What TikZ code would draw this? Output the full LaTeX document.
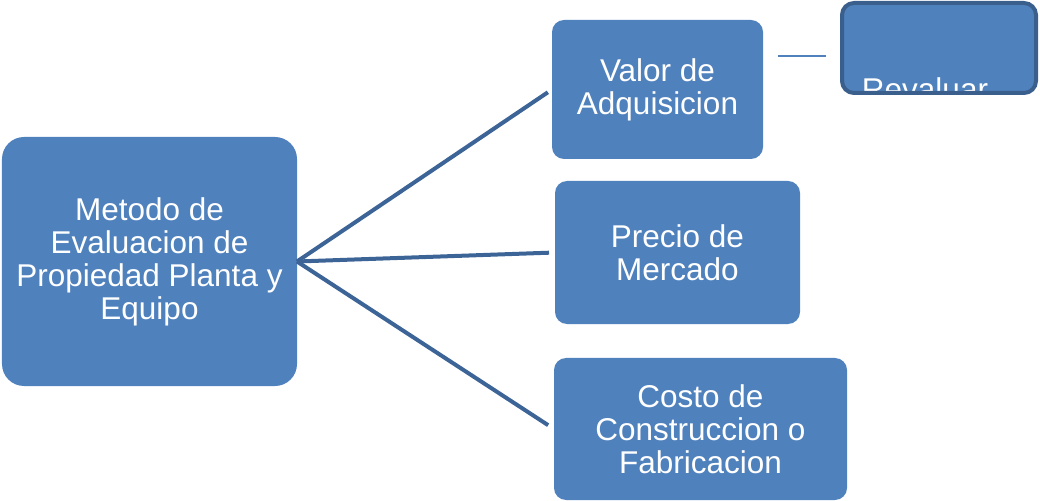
\documentclass[tikz,border=0pt]{standalone}
\usepackage{fontspec}
\setmainfont{Liberation Sans}
\definecolor{boxblue}{HTML}{4F81BD}
\definecolor{edgeblue}{HTML}{3C6496}
\definecolor{rimblue}{HTML}{3B5F8C}

\begin{document}
\begin{tikzpicture}[x=1bp,y=-1bp,
  every text node part/.style={align=center},
  box/.style={rectangle,rounded corners=12bp,fill=boxblue,text=white,inner sep=0pt,outer sep=0pt,
    font=\fontsize{31.5bp}{33bp}\selectfont},
  spoke/.style={draw=edgeblue,line width=4bp},
  twig/.style={draw=boxblue,line width=2bp}]

\useasboundingbox(0,0)rectangle(1040,501);

\node[box,rounded corners=22bp,minimum width=295bp,minimum height=249bp](metodo)at(149.5,261.5)
  {Metodo de\\Evaluacion de\\Propiedad Planta y\\Equipo};

\node[box,minimum width=211bp,minimum height=139bp](valor)at(657.5,89.5){Valor de\\Adquisicion};
\node[box,minimum width=245bp,minimum height=143bp](precio)at(677.5,252.5){Precio de\\Mercado};
\node[box,minimum width=293bp,minimum height=142bp](costo)at(700.5,429){Costo de\\Construccion o\\Fabricacion};

\node[box,minimum width=194bp,minimum height=90bp](reval)at(939,48){};
\begin{scope}
\clip[rounded corners=12bp](reval.north west)rectangle(reval.south east);
\node[text=white,inner sep=0pt,anchor=base,font=\fontsize{31.5bp}{33bp}\selectfont](revtext)at(925,100.5){Revaluar};
\end{scope}
\draw[rimblue,line width=4bp,rounded corners=12bp](reval.north west)rectangle(reval.south east);

\draw[spoke,shorten >=5bp](metodo.east)--(valor.west);
\draw[spoke,shorten >=6bp](metodo.east)--(precio.west);
\draw[spoke,shorten >=7bp](metodo.east)--(costo.west);

\draw[twig,shorten <=15bp,shorten >=16bp]([yshift=-8bp]valor.east|-reval.west)--([yshift=-8bp]reval.west);

\end{tikzpicture}
\end{document}
